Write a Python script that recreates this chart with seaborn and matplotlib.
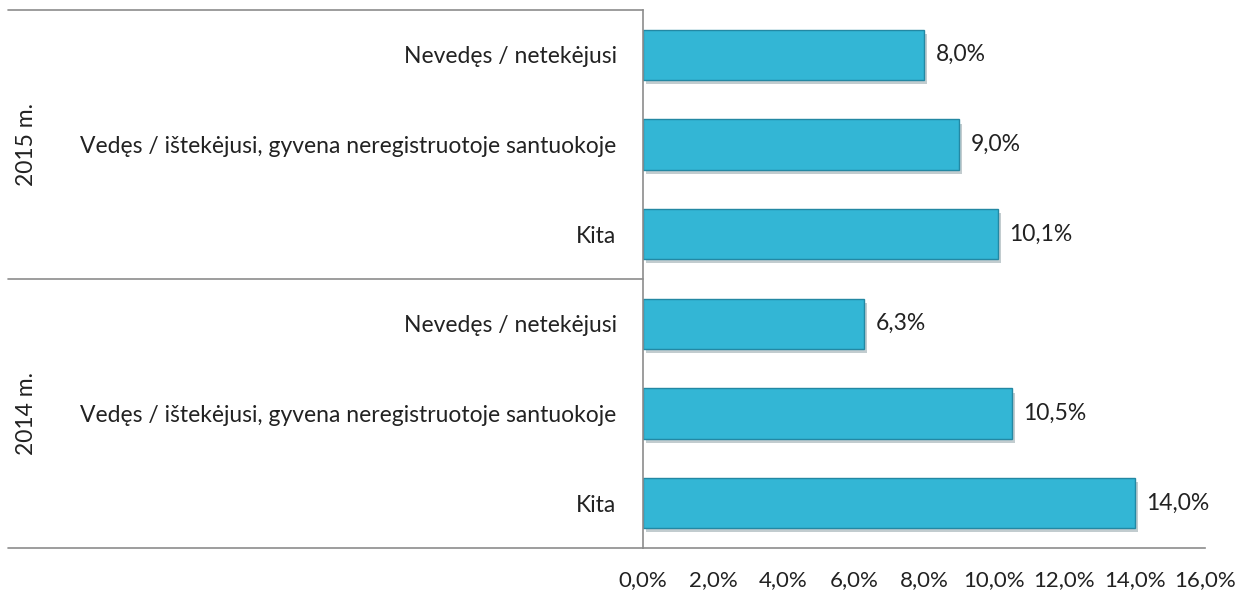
import matplotlib.pyplot as plt
import matplotlib.patheffects as pe
from matplotlib.lines import Line2D
import seaborn as sns
import pandas as pd

years = ['2015 m.', '2014 m.']
categories = ['Nevedęs / netekėjusi',
              'Vedęs / ištekėjusi, gyvena neregistruotoje santuokoje',
              'Kita']
values_2015 = [8.0, 9.0, 10.1]
values_2014 = [6.3, 10.5, 14.0]
x_ticks = [0, 2, 4, 6, 8, 10, 12, 14, 16]

rows = []
for year, vals in zip(years, [values_2015, values_2014]):
    for cat, v in zip(categories, vals):
        rows.append({'key': year + '|' + cat, 'year': year, 'cat': cat, 'value': v})
df = pd.DataFrame(rows)

sns.set_style('white')
plt.rcParams['font.family'] = ['Lato', 'DejaVu Sans']

fig = plt.figure(figsize=(12.48, 5.95), dpi=100)
ax = fig.add_axes([643 / 1248, 1 - 548 / 595, 562 / 1248, 538 / 595])

sns.barplot(data=df, x='value', y='key', ax=ax, color='#33b6d5',
            width=0.56, edgecolor='#2388a3', linewidth=1.0, saturation=1)

for bar in ax.patches:
    bar.set_path_effects([pe.SimplePatchShadow(offset=(2, -3), alpha=0.25), pe.Normal()])

for bar, v in zip(ax.patches, df['value']):
    ax.text(v + 0.33, bar.get_y() + bar.get_height() / 2,
            f'{v:.1f}%'.replace('.', ','), va='center', ha='left',
            fontsize=16.5, color='#222222')

ax.set_xlim(0, 16)
ax.set_ylim(5.5, -0.5)
ax.set_xticks(x_ticks)
ax.set_xticklabels([f'{t:.1f}%'.replace('.', ',') for t in x_ticks], fontsize=16, color='#222222')
ax.set_yticks(range(len(df)))
ax.set_yticklabels(df['cat'], fontsize=16.5, color='#222222')
ax.tick_params(axis='x', length=0, pad=16)
ax.tick_params(axis='y', length=0, pad=19)
ax.set_xlabel('')
ax.set_ylabel('')

line_col = '#8c8c8c'
for s in ['top', 'right']:
    ax.spines[s].set_visible(False)
for s in ['left', 'bottom']:
    ax.spines[s].set_color(line_col)
    ax.spines[s].set_linewidth(1.2)

x_left = (8 - 643) / 562
for y in [0.0, 0.5, 1.0]:
    ax.add_line(Line2D([x_left, 0], [y, y], transform=ax.transAxes,
                       color=line_col, linewidth=1.2, clip_on=False))

for i, year in enumerate(years):
    ax.text((27 - 643) / 562, 0.75 - 0.5 * i, year, transform=ax.transAxes,
            rotation=90, va='center', ha='center', fontsize=16.5, color='#222222')

fig.savefig('out.png', dpi=100)
